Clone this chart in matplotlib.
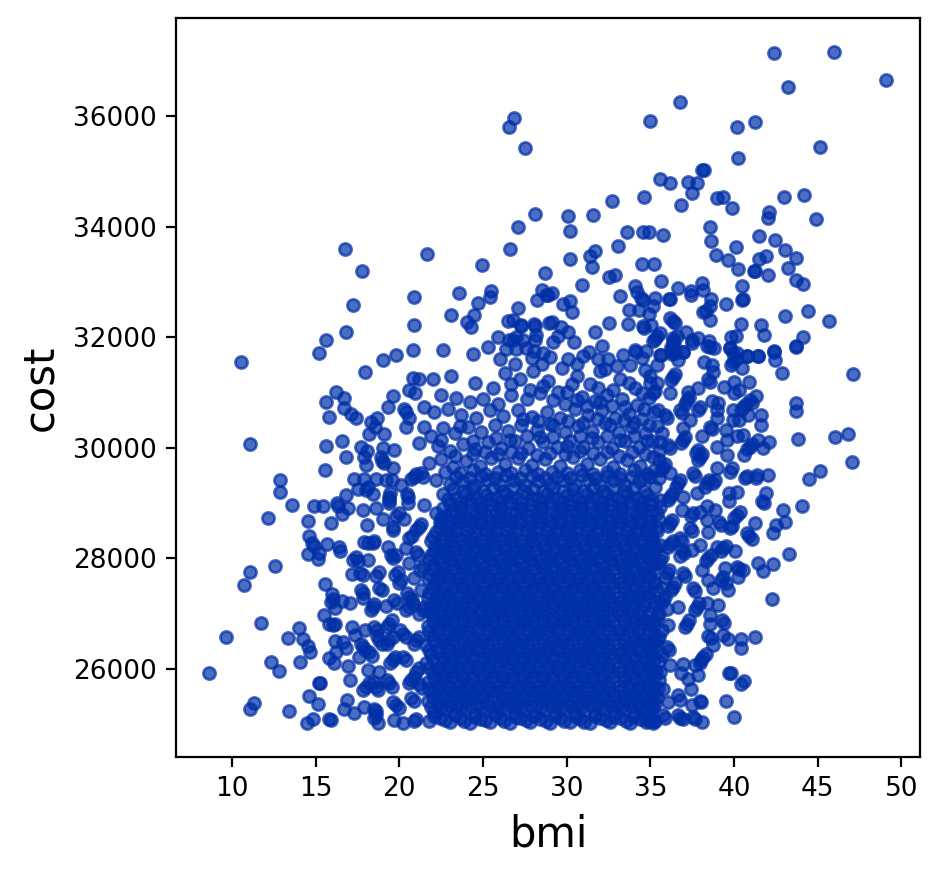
import matplotlib
matplotlib.use("Agg")
import matplotlib.pyplot as plt

# Points, region by region: (bmi, cost)
top_left = [(26.87,35963),(26.57,35800),(27.53,35414),(28.12,34220),(27.11,33985),(26.63,33587),(16.77,33587),(17.79,33189),(21.67,33497),(24.96,33298),(28.68,33153),(17.25,32574),(20.89,32719),(23.58,32791),(25.49,32827),(25.43,32719),(24.72,32610),(28.54,32845),(28.76,32755),(28.22,32664),(27.11,32520),(23.1,32393),(24.48,32393),(24.06,32279),(24.3,32188),(20.89,32212),(16.83,32086),(15.63,31941),(15.22,31718),(20.83,31760),(22.63,31760),(19.82,31670),(19.04,31590),(24.42,31700),(25.32,31826),(25.91,31995),(26.47,32285),(26.77,32303),(27.27,32225),(28.07,32240),(28.12,32195),(28.18,32044),(28.12,31953),(26.57,31953),(27.41,31941),(26.37,31778),(26.97,31778),(27.57,31800),(28.07,31755),(28.56,31710),(28.92,32255),(27.0,32000),(27.3,32210),(26.8,31950)]

top_right = [(42.42,37139),(46.0,37157),(49.11,36650),(43.25,36518),(36.8,36246),(35.0,35903),(41.28,35885),(40.2,35794),(45.17,35432),(40.26,35233),(38.11,35022),(38.21,35016),(35.6,34853),(36.2,34781),(37.28,34799),(37.81,34781),(37.5,34600),(34.65,34528),(32.73,34455),(36.86,34383),(39.01,34510),(39.37,34528),(39.91,34329),(43.01,34528),(44.21,34564),(44.93,34130),(42.12,34257),(42.06,34148),(30.11,34184),(31.6,34202),(30.22,33913),(33.63,33895),(34.59,33895),(34.95,33895),(35.78,33840),(38.59,33985),(38.65,33732),(41.52,33822),(42.48,33750),(43.07,33569),(43.73,33424),(43.25,33243),(43.73,33026),(44.15,32954),(33.09,33641),(40.14,33623),(38.95,33479),(39.67,33388),(40.26,33225),(41.94,33461),(41.52,33406),(41.22,33189),(41.24,33195),(42.06,33117),(40.5,32918),(40.5,32677),(40.52,32682),(30.22,33406),(31.72,33551),(31.42,33461),(31.54,33261),(34.53,33316),(35.24,33316),(32.91,33117),(32.56,33081),(30.94,32936),(35.66,33008),(34.11,32918),(34.23,32815),(34.47,32707),(34.55,32670),(36.68,32882),(38.11,32972),(38.17,32845),(37.46,32827),(37.46,32755),(36.14,32689),(36.18,32695),(35.3,32707),(33.21,32743),(29.13,32791),(28.89,32767),(30.22,32652),(29.81,32598),(30.34,32448),(38.65,32689),(38.59,32556),(39.55,32592),(38.17,32448),(38.3,32480),(38.59,32303),(33.73,32484),(34.35,32484),(35.18,32562),(34.95,32411),(43.07,32375),(44.45,32465),(45.7,32285),(40.44,32230),(41.64,32218),(41.82,32031),(44.15,31995),(43.73,31832),(42.42,31742),(33.69,32230),(32.56,32248),(31.72,32086),(34.59,32194),(34.65,32170),(35.07,32212),(36.2,32339),(36.38,32285),(36.45,32265),(37.16,32086),(35.6,32068),(35.4,32030),(35.18,31923),(35.3,31960),(36.38,31923),(36.42,31870),(36.35,31990),(36.62,32013),(37.52,31941),(37.87,31977),(38.53,31923),(38.41,31832),(38.83,31796),(39.85,31995),(40.14,32013),(39.79,31796),(39.97,31712),(40.8,31652),(41.46,31652),(32.14,31832),(31.36,31724),(30.46,31905),(30.11,32086),(29.69,32176),(29.13,32267),(29.49,32013),(29.19,31905),(33.39,31670),(34.11,31772),(34.16,31740),(34.77,31742),(35.66,31670),(36.98,31724),(36.26,31742),(36.3,31700)]

left_side = [(10.55,31545),(11.09,30062),(12.89,29410),(12.89,29205),(13.6,28958),(12.17,28723),(14.92,28952),(15.45,28952),(14.56,28669),(15.93,28633),(16.29,28994),(16.36,28950),(16.83,29151),(16.95,28904),(16.59,28795),(15.57,29591),(15.63,30025),(16.59,30116),(16.83,29826),(15.63,30821),(16.23,31008),(16.71,30894),(16.71,30713),(15.81,30550),(17.13,30604),(17.43,30532),(17.96,31364),(20.83,31256),(21.19,31237),(20.6,31038),(20.95,30984),(19.64,30930),(19.34,30731),(20.3,30695),(20.42,30640),(20.6,30532),(20.41,30369),(21.49,30731),(21.49,30369),(21.19,30080),(18.68,30532),(18.32,30460),(18.56,30369),(18.2,30243),(19.1,30243),(17.73,30007),(18.08,29935),(17.9,29826),(18.02,29682),(19.0,29989),(19.7,29953),(18.92,29826),(18.98,29770),(19.1,29718),(19.64,29627),(17.31,29428),(17.9,29428),(18.6,29428),(19.2,29416),(17.5,29248),(18.0,29236),(18.1,29290),(18.4,29157),(19.4,29115),(19.45,29180),(19.4,28994),(19.36,29050),(20.5,29115),(20.45,29170),(20.5,28994),(20.89,29477),(20.7,29440),(21.0,29530),(21.29,29537),(21.4,29470),(20.1,29326),(19.56,29416),(21.49,28964),(17.83,28868),(18.6,28904),(19.0,28705),(19.99,28813),(19.8,28760),(20.3,28705),(18.08,28596),(19.6,28512),(19.65,28570),(21.19,28572),(21.3,28630),(21.0,28510),(20.6,28361),(20.75,28400),(14.62,28409),(14.78,28271),(14.9,28220),(15.69,28253),(16.41,28198),(16.45,28130),(14.56,28072),(15.22,28090),(15.16,27981),(12.59,27855),(11.09,27746),(10.73,27511),(17.9,28301),(18.1,28270),(18.4,28271),(18.5,28310),(19.3,28210),(19.5,28060),(19.6,28000),(17.41,28029),(17.25,27980),(17.5,27960),(18.1,27969),(19.8,28060),(20.4,28180),(20.99,28120),(21.1,28060),(21.39,27849),(21.25,27790),(20.6,27921),(17.17,27710),(17.8,27698),(17.65,27740),(18.8,27758),(18.6,27680),(19.9,27758),(19.75,27700),(20.0,27547),(20.1,27610),(20.9,27637),(15.57,27529),(15.97,27348),(15.93,27215),(16.05,27260),(16.17,27095),(17.07,27185),(16.55,27227),(17.73,27427),(17.85,27380),(18.8,27457),(18.95,27420),(17.8,27276),(18.4,27125),(18.3,27060),(18.5,27170),(19.2,27143),(19.7,27245),(19.85,27190),(20.6,27306),(20.45,27370),(20.75,27240),(20.6,27125),(20.4,27060),(20.8,27170),(21.3,27430),(21.39,27065),(21.2,27000),(21.5,27130),(15.49,26968),(15.81,26805),(16.17,26811),(16.05,26790),(19.4,26823),(19.25,26760),(19.55,26880),(11.75,26841),(9.66,26570),(8.64,25919),(14.02,26739),(13.36,26552),(14.26,26534),(14.56,26425),(14.68,26299),(12.35,26118),(12.83,25973),(14.08,26118),(15.81,26208),(16.11,26100),(16.17,26498),(16.61,26492),(16.81,26371),(16.21,26311),(17.17,26751),(17.35,26612),(17.96,26703),(18.5,26751),(18.65,26700),(16.91,26046),(17.07,25810),(15.22,25756),(15.25,25745),(14.62,25503),(15.12,25376),(11.33,25388),(11.07,25268),(13.42,25232),(14.86,25105),(14.5,25015),(15.81,25093),(15.9,25085),(16.89,25448),(16.67,25268),(17.31,25213),(17.9,25316),(18.5,25286),(18.6,25240),(18.74,25015),(18.6,25165),(18.5,25110),(20.2,25025),(19.7,25075),(21.0,25105),(20.85,25060),(17.8,26402),(17.95,26340),(17.7,26460),(17.6,26220),(18.2,26300),(18.35,26240),(18.8,26520),(18.95,26450),(18.65,26590),(18.8,25950),(18.1,25980),(18.0,25680),(17.8,25620),(18.2,25740),(18.6,25680),(18.75,25620),(18.5,25760),(19.4,25740),(19.55,25680),(19.25,25800),(19.6,26160),(19.75,26220),(19.45,26100),(19.4,26520),(19.6,26580),(19.25,26460),(20.2,26640),(20.4,26580),(20.05,26700),(20.2,26220),(20.4,26160),(20.7,25800),(20.55,25740),(20.85,25860),(21.0,25950),(21.2,26020),(21.0,26520),(21.2,26580),(20.85,26460),(19.8,25350),(20.0,25290),(19.6,25410),(20.7,25480),(20.9,25420),(21.2,25720),(21.35,25660)]

right_side = [(47.13,31328),(43.69,30815),(43.73,30659),(42.41,31738),(42.47,31587),(42.85,31346),(43.73,31828),(43.84,30152),(46.04,30188),(46.83,30242),(47.07,29736),(45.16,29573),(44.5,29428),(44.08,28940),(42.95,28868),(43.07,28651),(42.53,28596),(42.35,28452),(43.31,28072),(42.35,27891),(41.45,27915),(41.75,27764),(42.29,27258),(41.27,26570),(40.44,26534),(40.44,26389),(39.72,25931),(39.8,25925),(40.62,25792),(40.44,25732),(39.54,25413),(40.02,25141),(38.11,25045),(37.97,25413),(38.05,25410),(37.45,25630),(37.87,25889),(37.27,25828),(36.97,26088),(37.67,26070),(36.83,25919),(38.17,26220),(38.05,26160),(38.3,26280),(37.97,26100),(38.77,26432),(38.47,26594),(38.6,26560),(39.66,26534),(39.36,26612),(39.06,27155),(39.26,26884),(39.4,26840),(38.57,26823),(38.57,26974),(37.17,26823),(37.05,26760),(37.3,26890),(36.08,26793),(36.67,27125),(37.77,27125),(37.65,27070),(37.9,27190),(38.37,27185),(38.76,27457),(39.66,27427),(39.36,27668),(39.25,27610),(39.5,27560),(40.26,27668),(40.2,27849),(40.28,27800),(40.56,27788),(39.46,27818),(38.47,27607),(37.57,27457),(37.7,27410),(38.07,27788),(36.97,27728),(37.1,27680),(36.37,27487),(36.25,27430),(36.5,27550),(40.06,28132),(39.36,28180),(39.2,28130),(39.5,28230),(38.96,28210),(38.47,27999),(38.3,27950),(38.65,28060),(37.97,28240),(37.47,28150),(36.87,28150),(37.0,28100),(41.08,28343),(40.76,28452),(40.9,28400),(41.25,28632),(40.16,28783),(40.0,28730),(40.35,28840),(39.76,28542),(39.9,28590),(39.12,28663),(39.25,28610),(38.47,28470),(38.41,28693),(38.87,28874),(38.37,28946),(37.37,28542),(37.5,28490),(37.57,28813),(37.45,28770),(37.97,28844),(36.87,28874),(41.66,29030),(39.72,29030),(39.72,29175),(40.2,29205),(41.79,28994),(41.93,29175),(40.66,29447),(40.8,29490),(41.35,29507),(41.3,29450),(42.03,29507),(39.86,29627),(39.75,29570),(39.56,29869),(40.6,29869),(38.96,30007),(40.96,30019),(40.8,29970),(41.1,30070),(41.75,29989),(42.11,30104),(41.45,30140),(40.56,30230),(40.2,30212),(39.56,30140),(39.52,30321),(38.07,30212),(38.57,30381),(38.7,30340),(38.96,30532),(36.97,30351),(37.37,30502),(39.96,30502),(40.32,30502),(40.86,30592),(41.59,30592),(41.63,30405),(40.56,30743),(40.4,30690),(40.7,30790),(39.96,30683),(40.96,30864),(41.05,30810),(41.31,30942),(39.06,30803),(38.67,30845),(38.96,30683),(37.97,30743),(37.85,30690),(37.17,30864),(37.05,30800),(37.3,30920),(35.48,30683),(35.98,30532),(35.85,30590),(36.77,30683),(36.9,30630),(37.87,31075),(37.27,31014),(39.4,31093),(40.02,31195),(40.92,31183),(40.02,30996),(40.32,31045),(38.47,31237),(38.55,31190),(38.76,31376),(38.2,31557),(38.67,31497),(39.76,31798),(39.96,31557),(39.85,31500),(40.1,31610),(40.46,31436),(40.8,31666),(41.45,31666),(40.16,31708),(36.37,31286),(36.25,31230),(36.5,31340),(35.38,31165),(35.18,30984),(35.3,31030),(36.18,30984),(36.37,31768),(36.5,31710),(36.25,31830),(35.58,31678),(36.67,31587),(35.38,31497),(36.97,31738),(37.47,31889),(38.57,31828),(37.87,29959),(37.75,29900),(36.97,30140),(36.85,30080),(37.1,30200),(36.08,30049),(36.2,30000),(38.96,29627),(37.97,29838),(37.85,29780),(38.1,29890),(38.37,29356),(38.25,29300),(38.5,29410),(37.57,29537),(37.7,29490),(38.87,29416),(38.75,29370),(36.18,29537),(35.78,29657),(35.65,29600),(35.9,29710),(36.67,29356),(36.55,29300),(36.8,29410),(35.18,29838),(36.97,29115),(37.77,29175),(36.18,29115),(36.05,29060),(36.3,29170),(35.58,28934),(36.18,28632),(36.05,28580),(36.3,28690),(36.77,28361),(36.9,28310),(36.2,28260),(36.05,28200),(36.35,28320),(35.58,27969),(35.45,27910),(35.7,28030),(36.75,28050),(35.98,27728),(35.85,27670),(36.1,27790),(35.78,27245),(35.65,27190),(35.9,27300),(35.98,27089),(35.38,26944),(35.25,26890),(35.5,27000),(35.38,26522),(35.25,26470),(35.5,26580),(35.98,26401),(36.1,26350),(36.18,26070),(35.18,25979),(35.78,25647),(36.08,25407),(36.67,25527),(36.77,25437),(37.47,25346),(36.67,25165),(36.8,25120),(36.97,25105),(37.57,25135),(37.7,25090),(35.78,25165),(35.9,25110),(35.18,25015),(35.05,25070),(35.3,25060),(35.18,25316),(35.05,25260),(35.3,25370)]

upper_middle = [(22.0,31250),(23.1,31300),(24.5,31180),(25.6,31080),(26.3,31350),(27.2,31250),(28.0,31380),(28.9,31200),(29.7,31450),(30.6,31300),(31.4,31160),(32.3,31420),(33.2,31250),(34.1,31090),(34.7,31400),(26.0,31600),(26.9,31520),(27.9,31620),(29.0,31650),(30.1,31600),(31.0,31660),(32.5,31610),(33.8,31500),(22.5,30950),(23.4,30900),(24.2,30820),(25.0,30880),(25.9,30800),(26.7,30950),(27.6,30880),(28.4,30990),(29.2,30860),(30.0,31010),(30.9,30920),(31.7,30850),(32.4,30960),(33.3,30880),(34.2,30780),(34.9,30900),(22.1,30640),(22.9,30700),(23.7,30600),(24.6,30540),(25.4,30680),(26.2,30580),(27.1,30690),(27.9,30560),(28.8,30650),(29.6,30530),(30.5,30700),(31.3,30600),(32.1,30680),(32.9,30540),(33.7,30620),(34.5,30520),(35.2,30640),(21.9,30220),(22.6,30350),(23.3,30260),(24.1,30380),(24.9,30290),(25.7,30410),(26.5,30300),(27.3,30420),(28.2,30320),(29.0,30430),(29.9,30290),(30.7,30400),(31.5,30310),(32.3,30440),(33.1,30280),(33.9,30380),(34.7,30270),(35.4,30400),(22.3,30040),(23.0,29950),(23.8,30070),(24.5,29980),(25.3,30110),(26.1,30000),(26.9,30120),(27.7,29990),(28.6,30100),(29.4,30010),(30.2,30130),(31.0,30020),(31.9,30110),(32.7,30000),(33.5,30130),(34.3,30020),(35.1,30120),(35.7,30260),(21.8,29720),(22.5,29800),(23.2,29660),(24.0,29770),(24.8,29680),(25.5,29820),(26.3,29700),(27.1,29810),(27.9,29690),(28.7,29790),(29.6,29670),(30.4,29830),(31.2,29710),(32.0,29800),(32.8,29660),(33.6,29780),(34.4,29680),(35.2,29600),(35.6,30100)]

upper_extra = [(26.7,31150),(27.8,31040),(28.6,31120),(29.5,31010),(30.3,31160),(31.9,31080),(32.8,31050),(33.7,31170),(34.5,31000),(35.0,31180),(29.9,30800),(30.6,30870),(31.2,30750),(32.0,30830),(32.7,30760),(33.5,30740),(34.6,30700),(27.4,30520),(28.3,30480),(29.2,30420),(30.1,30490),(31.0,30450),(31.8,30520),(32.6,30410),(33.4,30500),(34.0,30450),(34.9,30420),(24.4,30130),(25.8,30180),(26.6,30150),(27.6,30210),(28.4,30200),(29.2,30190),(30.0,30030),(30.8,30220),(31.5,30170),(32.4,30210),(33.2,30140),(34.0,30210),(34.8,30120),(35.5,29950),(23.3,29850),(24.4,29880),(25.1,29920),(25.9,29880),(26.7,29920),(27.3,29900),(28.2,29870),(29.0,29910),(29.9,29890),(30.8,29940),(31.6,29900),(32.4,29930),(33.1,29860),(33.9,29930),(34.7,29890),(35.5,29780),(22.7,29560),(23.6,29540),(24.4,29590),(25.1,29530),(25.9,29570),(26.7,29550),(27.5,29600),(28.3,29530),(29.1,29560),(30.0,29540),(30.8,29600),(31.6,29530),(32.4,29570),(33.2,29520),(34.0,29590),(34.8,29530),(35.5,29450),(28.5,31520),(30.6,31510),(32.0,31390),(33.0,31480),(31.9,31600),(34.5,31620),(35.0,31300),(23.6,30400),(22.5,30150)]

core_a = [(21.8,25060),(22.4,25120),(23.0,25040),(23.6,25110),(24.2,25030),(24.8,25100),(25.4,25050),(26.0,25120),(26.6,25030),(27.2,25110),(27.8,25040),(28.4,25100),(29.0,25030),(29.6,25120),(30.2,25050),(30.8,25100),(31.4,25030),(32.0,25110),(32.6,25040),(33.2,25120),(33.8,25030),(34.4,25100),(34.9,25060),
(22.1,25220),(22.7,25280),(23.3,25200),(23.9,25270),(24.5,25190),(25.1,25260),(25.7,25210),(26.3,25280),(26.9,25200),(27.5,25270),(28.1,25190),(28.7,25260),(29.3,25210),(29.9,25280),(30.5,25200),(31.1,25260),(31.7,25190),(32.3,25270),(32.9,25210),(33.5,25280),(34.1,25200),(34.7,25260),
(21.7,25420),(22.3,25370),(22.9,25430),(23.5,25360),(24.1,25440),(24.7,25370),(25.3,25420),(25.9,25350),(26.5,25430),(27.1,25370),(27.7,25440),(28.3,25360),(28.9,25420),(29.5,25370),(30.1,25430),(30.7,25350),(31.3,25440),(31.9,25370),(32.5,25420),(33.1,25360),(33.7,25430),(34.3,25370),(34.9,25440),(35.4,25500),
(22.0,25580),(22.6,25530),(23.2,25600),(23.8,25520),(24.4,25590),(25.0,25530),(25.6,25600),(26.2,25520),(26.8,25580),(27.4,25530),(28.0,25600),(28.6,25520),(29.2,25590),(29.8,25530),(30.4,25600),(31.0,25520),(31.6,25580),(32.2,25530),(32.8,25600),(33.4,25520),(34.0,25590),(34.6,25530),(35.2,25600),
(21.7,25760),(22.3,25700),(22.9,25770),(23.5,25690),(24.1,25750),(24.7,25700),(25.3,25770),(25.9,25690),(26.5,25760),(27.1,25700),(27.7,25770),(28.3,25690),(28.9,25750),(29.5,25700),(30.1,25770),(30.7,25690),(31.3,25760),(31.9,25700),(32.5,25770),(33.1,25690),(33.7,25750),(34.3,25700),(34.9,25770),(35.5,25800),
(22.0,25930),(22.6,25870),(23.2,25940),(23.8,25860),(24.4,25920),(25.0,25870),(25.6,25940),(26.2,25860),(26.8,25930),(27.4,25870),(28.0,25940),(28.6,25860),(29.2,25920),(29.8,25870),(30.4,25940),(31.0,25860),(31.6,25930),(32.2,25870),(32.8,25940),(33.4,25860),(34.0,25920),(34.6,25870),(35.6,25940),
(21.6,26100),(22.3,26040),(22.9,26110),(23.5,26030),(24.1,26090),(24.7,26040),(25.3,26110),(25.9,26030),(26.5,26100),(27.1,26040),(27.7,26110),(28.3,26030),(28.9,26090),(29.5,26040),(30.1,26110),(30.7,26030),(31.3,26100),(31.9,26040),(32.5,26110),(33.1,26030),(33.7,26090),(34.3,26040),(34.9,26110),(35.5,26150),
(21.9,26270),(22.6,26210),(23.2,26280),(23.8,26200),(24.4,26260),(25.0,26210),(25.6,26280),(26.2,26200),(26.8,26270),(27.4,26210),(28.0,26280),(28.6,26200),(29.2,26260),(29.8,26210),(30.4,26280),(31.0,26200),(31.6,26270),(32.2,26210),(32.8,26280),(33.4,26200),(34.0,26260),(34.6,26210),(35.1,26280),(35.7,26250)]

core_b = [(21.6,26440),(22.3,26380),(22.9,26450),(23.5,26370),(24.1,26430),(24.7,26380),(25.3,26450),(25.9,26370),(26.5,26440),(27.1,26380),(27.7,26450),(28.3,26370),(28.9,26430),(29.5,26380),(30.1,26450),(30.7,26370),(31.3,26440),(31.9,26380),(32.5,26450),(33.1,26370),(33.7,26430),(34.3,26380),(34.9,26450),
(22.0,26610),(22.6,26550),(23.2,26620),(23.8,26540),(24.4,26600),(25.0,26550),(25.6,26620),(26.2,26540),(26.8,26610),(27.4,26550),(28.0,26620),(28.6,26540),(29.2,26600),(29.8,26550),(30.4,26620),(31.0,26540),(31.6,26610),(32.2,26550),(32.8,26620),(33.4,26540),(34.0,26600),(34.6,26550),(35.2,26620),(35.7,26700),
(21.7,26780),(22.3,26720),(22.9,26790),(23.5,26710),(24.1,26770),(24.7,26720),(25.3,26790),(25.9,26710),(26.5,26780),(27.1,26720),(27.7,26790),(28.3,26710),(28.9,26770),(29.5,26720),(30.1,26790),(30.7,26710),(31.3,26780),(31.9,26720),(32.5,26790),(33.1,26710),(33.7,26770),(34.3,26720),(34.9,26790),
(22.0,26950),(22.6,26890),(23.2,26960),(23.8,26880),(24.4,26940),(25.0,26890),(25.6,26960),(26.2,26880),(26.8,26950),(27.4,26890),(28.0,26960),(28.6,26880),(29.2,26940),(29.8,26890),(30.4,26960),(31.0,26880),(31.6,26950),(32.2,26890),(32.8,26960),(33.4,26880),(34.0,26940),(34.6,26890),(35.1,26860),
(21.9,27120),(22.5,27060),(23.1,27130),(23.7,27050),(24.3,27110),(24.9,27060),(25.5,27130),(26.1,27050),(26.7,27120),(27.3,27060),(27.9,27130),(28.5,27050),(29.1,27110),(29.7,27060),(30.3,27130),(30.9,27050),(31.5,27120),(32.1,27060),(32.7,27130),(33.3,27050),(33.9,27110),(34.5,27060),(35.2,27120),
(21.7,27290),(22.3,27230),(22.9,27300),(23.5,27220),(24.1,27280),(24.7,27230),(25.3,27300),(25.9,27220),(26.5,27290),(27.1,27230),(27.7,27300),(28.3,27220),(28.9,27280),(29.5,27230),(30.1,27300),(30.7,27220),(31.3,27290),(31.9,27230),(32.5,27300),(33.1,27220),(33.7,27280),(34.3,27230),(34.9,27300),(35.4,27420),
(22.0,27460),(22.6,27400),(23.2,27470),(23.8,27390),(24.4,27450),(25.0,27400),(25.6,27470),(26.2,27390),(26.8,27460),(27.4,27400),(28.0,27470),(28.6,27390),(29.2,27450),(29.8,27400),(30.4,27470),(31.0,27390),(31.6,27460),(32.2,27400),(32.8,27470),(33.4,27390),(34.0,27450),(34.6,27400),(35.7,27470),
(21.7,27630),(22.3,27570),(22.9,27640),(23.5,27560),(24.1,27620),(24.7,27570),(25.3,27640),(25.9,27560),(26.5,27630),(27.1,27570),(27.7,27640),(28.3,27560),(28.9,27620),(29.5,27570),(30.1,27640),(30.7,27560),(31.3,27630),(31.9,27570),(32.5,27640),(33.1,27560),(33.7,27620),(34.3,27570),(34.9,27640),(35.3,27580)]

core_c = [(22.0,27800),(22.6,27740),(23.2,27810),(23.8,27730),(24.4,27790),(25.0,27740),(25.6,27810),(26.2,27730),(26.8,27800),(27.4,27740),(28.0,27810),(28.6,27730),(29.2,27790),(29.8,27740),(30.4,27810),(31.0,27730),(31.6,27800),(32.2,27740),(32.8,27810),(33.4,27730),(34.0,27790),(34.6,27740),(35.2,27810),
(21.8,27970),(22.4,27910),(23.0,27980),(23.6,27900),(24.2,27960),(24.8,27910),(25.4,27980),(26.0,27900),(26.6,27970),(27.2,27910),(27.8,27980),(28.4,27900),(29.0,27960),(29.6,27910),(30.2,27980),(30.8,27900),(31.4,27970),(32.0,27910),(32.6,27980),(33.2,27900),(33.8,27960),(34.4,27910),(35.0,27980),
(22.1,28140),(22.7,28080),(23.3,28150),(23.9,28070),(24.5,28130),(25.1,28080),(25.7,28150),(26.3,28070),(26.9,28140),(27.5,28080),(28.1,28150),(28.7,28070),(29.3,28130),(29.9,28080),(30.5,28150),(31.1,28070),(31.7,28140),(32.3,28080),(32.9,28150),(33.5,28070),(34.1,28130),(34.7,28080),(35.3,28150),
(21.9,28310),(22.5,28250),(23.1,28320),(23.7,28240),(24.3,28300),(24.9,28250),(25.5,28320),(26.1,28240),(26.7,28310),(27.3,28250),(27.9,28320),(28.5,28240),(29.1,28300),(29.7,28250),(30.3,28320),(30.9,28240),(31.5,28310),(32.1,28250),(32.7,28320),(33.3,28240),(33.9,28300),(34.5,28250),(35.1,28320),(35.6,28250),
(22.2,28480),(22.8,28420),(23.4,28490),(24.0,28410),(24.6,28470),(25.2,28420),(25.8,28490),(26.4,28410),(27.0,28480),(27.6,28420),(28.2,28490),(28.8,28410),(29.4,28470),(30.0,28420),(30.6,28490),(31.2,28410),(31.8,28480),(32.4,28420),(33.0,28490),(33.6,28410),(34.2,28470),(34.8,28420),(35.4,28490),
(22.4,28650),(23.0,28590),(23.6,28660),(24.2,28580),(24.8,28640),(25.4,28590),(26.0,28660),(26.6,28580),(27.2,28650),(27.8,28590),(28.4,28660),(29.0,28580),(29.6,28640),(30.2,28590),(30.8,28660),(31.4,28580),(32.0,28650),(32.6,28590),(33.2,28660),(33.8,28580),(34.4,28640),(35.0,28590),(35.5,28700),
(22.2,28820),(22.8,28760),(23.4,28830),(24.0,28750),(24.6,28810),(25.2,28760),(25.8,28830),(26.4,28750),(27.0,28820),(27.6,28760),(28.2,28830),(28.8,28750),(29.4,28810),(30.0,28760),(30.6,28830),(31.2,28750),(31.8,28820),(32.4,28760),(33.0,28830),(33.6,28750),(34.2,28810),(34.8,28760),(35.4,28830),
(23.0,28990),(23.6,28930),(24.2,29000),(24.8,28920),(25.4,28980),(26.0,28930),(26.6,29000),(27.2,28920),(27.8,28990),(28.4,28930),(29.0,29000),(29.6,28920),(30.2,28980),(30.8,28930),(31.4,29000),(32.0,28920),(32.6,28990),(33.2,28930),(33.8,29000),(34.4,28920),(35.0,28980),(35.6,29060),
(22.6,29160),(23.4,29100),(24.0,29170),(24.6,29090),(25.2,29150),(25.8,29100),(26.4,29170),(27.0,29090),(27.6,29160),(28.2,29100),(28.8,29170),(29.4,29090),(30.0,29150),(30.6,29100),(31.2,29170),(31.8,29090),(32.4,29160),(33.0,29100),(33.6,29170),(34.2,29090),(34.8,29150),(35.3,29300),
(22.2,29420),(23.0,29340),(23.8,29400),(24.5,29320),(25.3,29410),(26.0,29330),(26.8,29420),(27.5,29320),(28.3,29400),(29.0,29340),(29.8,29420),(30.5,29320),(31.3,29410),(32.0,29330),(32.8,29420),(33.5,29320),(34.3,29400),(35.0,29480)]

core_fill_low = [(22.1,25150),(22.75,25080),(23.35,25170),(23.85,25060),(24.55,25140),(25.1,25075),(25.75,25160),(26.25,25065),(26.95,25130),(27.55,25070),(28.05,25150),(28.75,25065),(29.3,25145),(29.85,25060),(30.55,25135),(31.05,25050),(31.7,25150),(32.35,25075),(32.85,25140),(33.55,25060),(34.05,25130),(34.75,25050),
(21.9,25320),(22.45,25300),(23.05,25330),(23.7,25290),(24.25,25340),(24.9,25290),(25.45,25320),(26.1,25300),(26.65,25345),(27.25,25300),(27.85,25330),(28.45,25290),(29.05,25340),(29.65,25295),(30.25,25330),(30.85,25290),(31.45,25345),(32.05,25300),(32.65,25325),(33.25,25290),(33.85,25340),(34.45,25295),(35.0,25340),
(22.0,25490),(22.6,25450),(23.2,25510),(23.8,25450),(24.4,25490),(25.0,25460),(25.6,25515),(26.2,25445),(26.8,25500),(27.4,25450),(28.0,25510),(28.6,25450),(29.2,25495),(29.8,25450),(30.4,25515),(31.0,25445),(31.6,25495),(32.2,25455),(32.8,25510),(33.4,25445),(34.0,25500),(34.6,25450),(35.2,25510),
(21.75,25640),(22.3,25620),(22.95,25670),(23.5,25610),(24.1,25660),(24.7,25620),(25.3,25680),(25.9,25605),(26.5,25665),(27.1,25620),(27.7,25680),(28.3,25610),(28.9,25660),(29.5,25620),(30.1,25680),(30.7,25605),(31.3,25670),(31.9,25620),(32.5,25680),(33.1,25610),(33.7,25665),(34.3,25620),(34.9,25680),(35.45,25650),
(22.05,25840),(22.6,25790),(23.2,25850),(23.8,25780),(24.4,25840),(25.0,25790),(25.6,25855),(26.2,25780),(26.8,25845),(27.4,25790),(28.0,25855),(28.6,25780),(29.2,25835),(29.8,25790),(30.4,25855),(31.0,25780),(31.6,25845),(32.2,25790),(32.8,25855),(33.4,25775),(34.0,25840),(34.6,25790),(35.2,25850),
(21.8,26010),(22.3,25960),(22.9,26020),(23.5,25950),(24.1,26010),(24.7,25960),(25.3,26025),(25.9,25950),(26.5,26015),(27.1,25960),(27.7,26025),(28.3,25950),(28.9,26005),(29.5,25960),(30.1,26025),(30.7,25950),(31.3,26015),(31.9,25960),(32.5,26025),(33.1,25950),(33.7,26005),(34.3,25960),(34.9,26025),(35.35,25960),
(22.0,26180),(22.6,26130),(23.2,26190),(23.8,26120),(24.4,26180),(25.0,26130),(25.6,26195),(26.2,26120),(26.8,26185),(27.4,26130),(28.0,26195),(28.6,26120),(29.2,26175),(29.8,26130),(30.4,26195),(31.0,26120),(31.6,26185),(32.2,26130),(32.8,26195),(33.4,26120),(34.0,26175),(34.6,26130),(35.2,26190),
(21.75,26350),(22.3,26300),(22.9,26360),(23.5,26290),(24.1,26350),(24.7,26300),(25.3,26365),(25.9,26290),(26.5,26355),(27.1,26300),(27.7,26365),(28.3,26290),(28.9,26345),(29.5,26300),(30.1,26365),(30.7,26290),(31.3,26355),(31.9,26300),(32.5,26365),(33.1,26290),(33.7,26345),(34.3,26300),(34.9,26360),(35.4,26340),
(22.0,26525),(22.6,26470),(23.2,26530),(23.8,26460),(24.4,26520),(25.0,26470),(25.6,26535),(26.2,26460),(26.8,26525),(27.4,26470),(28.0,26535),(28.6,26460),(29.2,26515),(29.8,26470),(30.4,26535),(31.0,26460),(31.6,26525),(32.2,26470),(32.8,26535),(33.4,26460),(34.0,26515),(34.6,26470),(35.2,26530),
(21.75,26695),(22.3,26640),(22.9,26700),(23.5,26630),(24.1,26690),(24.7,26640),(25.3,26705),(25.9,26630),(26.5,26695),(27.1,26640),(27.7,26705),(28.3,26630),(28.9,26685),(29.5,26640),(30.1,26705),(30.7,26630),(31.3,26695),(31.9,26640),(32.5,26705),(33.1,26630),(33.7,26685),(34.3,26640),(34.9,26700)]

core_fill_mid = [(22.0,26865),(22.6,26810),(23.2,26870),(23.8,26800),(24.4,26860),(25.0,26810),(25.6,26875),(26.2,26800),(26.8,26865),(27.4,26810),(28.0,26875),(28.6,26800),(29.2,26855),(29.8,26810),(30.4,26875),(31.0,26800),(31.6,26865),(32.2,26810),(32.8,26875),(33.4,26800),(34.0,26855),(34.6,26810),(35.2,26780),
(21.75,27035),(22.3,26980),(22.9,27040),(23.5,26970),(24.1,27030),(24.7,26980),(25.3,27045),(25.9,26970),(26.5,27035),(27.1,26980),(27.7,27045),(28.3,26970),(28.9,27025),(29.5,26980),(30.1,27045),(30.7,26970),(31.3,27035),(31.9,26980),(32.5,27045),(33.1,26970),(33.7,27025),(34.3,26980),(34.9,27040),
(22.05,27205),(22.6,27150),(23.2,27210),(23.8,27140),(24.4,27200),(25.0,27150),(25.6,27215),(26.2,27140),(26.8,27205),(27.4,27150),(28.0,27215),(28.6,27140),(29.2,27195),(29.8,27150),(30.4,27215),(31.0,27140),(31.6,27205),(32.2,27150),(32.8,27215),(33.4,27140),(34.0,27195),(34.6,27150),(35.2,27210),
(21.75,27375),(22.3,27320),(22.9,27380),(23.5,27310),(24.1,27370),(24.7,27320),(25.3,27385),(25.9,27310),(26.5,27375),(27.1,27320),(27.7,27385),(28.3,27310),(28.9,27365),(29.5,27320),(30.1,27385),(30.7,27310),(31.3,27375),(31.9,27320),(32.5,27385),(33.1,27310),(33.7,27365),(34.3,27320),(34.9,27380),
(22.05,27545),(22.6,27490),(23.2,27550),(23.8,27480),(24.4,27540),(25.0,27490),(25.6,27555),(26.2,27480),(26.8,27545),(27.4,27490),(28.0,27555),(28.6,27480),(29.2,27535),(29.8,27490),(30.4,27555),(31.0,27480),(31.6,27545),(32.2,27490),(32.8,27555),(33.4,27480),(34.0,27535),(34.6,27490),(35.2,27550),
(21.75,27715),(22.3,27660),(22.9,27720),(23.5,27650),(24.1,27710),(24.7,27660),(25.3,27725),(25.9,27650),(26.5,27715),(27.1,27660),(27.7,27725),(28.3,27650),(28.9,27705),(29.5,27660),(30.1,27725),(30.7,27650),(31.3,27715),(31.9,27660),(32.5,27725),(33.1,27650),(33.7,27705),(34.3,27660),(34.9,27720),
(22.05,27885),(22.6,27830),(23.2,27890),(23.8,27820),(24.4,27880),(25.0,27830),(25.6,27895),(26.2,27820),(26.8,27885),(27.4,27830),(28.0,27895),(28.6,27820),(29.2,27875),(29.8,27830),(30.4,27895),(31.0,27820),(31.6,27885),(32.2,27830),(32.8,27895),(33.4,27820),(34.0,27875),(34.6,27830),(35.2,27890),
(21.9,28055),(22.4,28000),(23.0,28060),(23.6,27990),(24.2,28050),(24.8,28000),(25.4,28065),(26.0,27990),(26.6,28055),(27.2,28000),(27.8,28065),(28.4,27990),(29.0,28045),(29.6,28000),(30.2,28065),(30.8,27990),(31.4,28055),(32.0,28000),(32.6,28065),(33.2,27990),(33.8,28045),(34.4,28000),(35.0,28060),
(22.15,28225),(22.7,28170),(23.3,28230),(23.9,28160),(24.5,28220),(25.1,28170),(25.7,28235),(26.3,28160),(26.9,28225),(27.5,28170),(28.1,28235),(28.7,28160),(29.3,28215),(29.9,28170),(30.5,28235),(31.1,28160),(31.7,28225),(32.3,28170),(32.9,28235),(33.5,28160),(34.1,28215),(34.7,28170),(35.3,28230),
(22.0,28395),(22.5,28340),(23.1,28400),(23.7,28330),(24.3,28390),(24.9,28340),(25.5,28405),(26.1,28330),(26.7,28395),(27.3,28340),(27.9,28405),(28.5,28330),(29.1,28385),(29.7,28340),(30.3,28405),(30.9,28330),(31.5,28395),(32.1,28340),(32.7,28405),(33.3,28330),(33.9,28385),(34.5,28340),(35.1,28400)]

core_fill_high = [(22.4,28565),(22.8,28510),(23.4,28570),(24.0,28500),(24.6,28560),(25.2,28510),(25.8,28575),(26.4,28500),(27.0,28565),(27.6,28510),(28.2,28575),(28.8,28500),(29.4,28555),(30.0,28510),(30.6,28575),(31.2,28500),(31.8,28565),(32.4,28510),(33.0,28575),(33.6,28500),(34.2,28555),(34.8,28510),(35.4,28570),
(22.5,28735),(23.0,28680),(23.6,28740),(24.2,28670),(24.8,28730),(25.4,28680),(26.0,28745),(26.6,28670),(27.2,28735),(27.8,28680),(28.4,28745),(29.0,28670),(29.6,28725),(30.2,28680),(30.8,28745),(31.4,28670),(32.0,28735),(32.6,28680),(33.2,28745),(33.8,28670),(34.4,28725),(35.0,28680),
(22.6,28905),(23.1,28850),(23.7,28910),(24.3,28840),(24.9,28900),(25.5,28850),(26.1,28915),(26.7,28840),(27.3,28905),(27.9,28850),(28.5,28915),(29.1,28840),(29.7,28895),(30.3,28850),(30.9,28915),(31.5,28840),(32.1,28905),(32.7,28850),(33.3,28915),(33.9,28840),(34.5,28895),(35.1,28850),
(22.9,29075),(23.7,29020),(24.3,29080),(24.9,29010),(25.5,29070),(26.1,29020),(26.7,29085),(27.3,29010),(27.9,29075),(28.5,29020),(29.1,29085),(29.7,29010),(30.3,29065),(30.9,29020),(31.5,29085),(32.1,29010),(32.7,29075),(33.3,29020),(33.9,29085),(34.5,29010),(35.1,29065),
(23.2,29260),(23.8,29215),(24.4,29270),(25.0,29210),(25.6,29265),(26.2,29220),(26.8,29275),(27.4,29215),(28.0,29260),(28.6,29220),(29.2,29270),(29.8,29210),(30.4,29260),(31.0,29220),(31.6,29275),(32.2,29215),(32.8,29260),(33.4,29220),(34.0,29270),(34.6,29215),
(23.4,29480),(24.2,29450),(24.9,29490),(25.7,29460),(26.4,29500),(27.2,29450),(27.9,29490),(28.7,29450),(29.4,29480),(30.2,29450),(30.9,29500),(31.7,29460),(32.4,29490),(33.2,29450),(33.9,29480),(34.6,29460)]

x_ticks = [10, 15, 20, 25, 30, 35, 40, 45, 50]
y_ticks = [26000, 28000, 30000, 32000, 34000, 36000]

all_points = (top_left + top_right + left_side + right_side + upper_middle + upper_extra
              + core_a + core_b + core_c + core_fill_low + core_fill_mid + core_fill_high)
bmi = [p[0] for p in all_points]
cost = [p[1] for p in all_points]

fig = plt.figure(figsize=(4.69, 4.37), dpi=200)
ax = fig.add_axes([176 / 938, 1 - 757 / 874, 744 / 938, 739 / 874])
ax.scatter(bmi, cost, s=19, color="#002FA7", alpha=0.7, linewidths=1.0)
ax.set_xlim(6.65, 51.12)
ax.set_ylim(24409, 37772)
ax.set_xticks(x_ticks)
ax.set_yticks(y_ticks)
ax.tick_params(labelsize=9.5)
ax.set_xlabel("bmi", fontsize=15)
ax.set_ylabel("cost", fontsize=15)
fig.savefig("out.png", dpi=200)
